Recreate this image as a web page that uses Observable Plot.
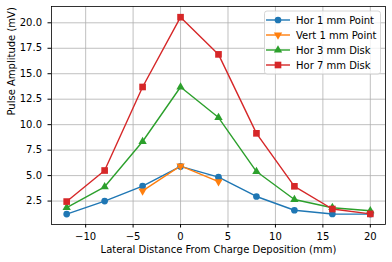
<!DOCTYPE html>
<html>
<head>
<meta charset="utf-8">
<script src="https://cdn.jsdelivr.net/npm/d3@7"></script>
<script src="https://cdn.jsdelivr.net/npm/@observablehq/plot@0.6"></script>
<style>
  html, body { margin: 0; padding: 0; background: #fff; }
  #chart { width: 392px; height: 262px; }
</style>
</head>
<body>
<div id="chart"></div>
<script>
// ---- data ----
const xPositions = [-12, -8, -4, 0, 4, 8, 12, 16, 20];
const hor1Point = [1.22, 2.5, 3.97, 5.9, 4.85, 2.95, 1.6, 1.23, 1.22];
const vertXPositions = [-4, 0, 4];
const vert1Point = [3.5, 5.95, 4.4];
const hor3Disk = [1.85, 3.9, 8.35, 13.7, 10.7, 5.4, 2.65, 1.85, 1.55];
const hor7Disk = [2.45, 5.5, 13.7, 20.55, 16.9, 9.15, 3.95, 1.72, 1.24];

const seriesNames = ["Hor 1 mm Point", "Vert 1 mm Point", "Hor 3 mm Disk", "Hor 7 mm Disk"];
const seriesColors = ["#1f77b4", "#ff7f0e", "#2ca02c", "#d62728"];
const seriesSymbols = ["circle", "triangle", "triangle", "square"];
const seriesRotate = [0, 180, 0, 0];

const xTicks = [-10, -5, 0, 5, 10, 15, 20];
const yTicks = [2.5, 5.0, 7.5, 10.0, 12.5, 15.0, 17.5, 20.0];
const xLabel = "Lateral Distance From Charge Deposition (mm)";
const yLabel = "Pulse Amplitude (mV)";

// ---- build table ----
const seriesXs = [xPositions, vertXPositions, xPositions, xPositions];
const seriesYs = [hor1Point, vert1Point, hor3Disk, hor7Disk];
const rows = [];
seriesNames.forEach((name, i) => {
  seriesXs[i].forEach((x, j) => rows.push({series: name, idx: i, x, y: seriesYs[i][j]}));
});

const symbolR = {circle: 3.35, triangle: 3.1, square: 3.75};

const marks = [
  Plot.gridX(xTicks, {stroke: "#b0b0b0", strokeOpacity: 1, strokeWidth: 0.8}),
  Plot.gridY(yTicks, {stroke: "#b0b0b0", strokeOpacity: 1, strokeWidth: 0.8}),
];
seriesNames.forEach((name, i) => {
  const data = rows.filter(d => d.idx === i);
  marks.push(Plot.line(data, {x: "x", y: "y", stroke: seriesColors[i], strokeWidth: 1.4}));
  marks.push(Plot.dot(data, {x: "x", y: "y", fill: seriesColors[i], stroke: "none",
    symbol: () => seriesSymbols[i], r: symbolR[seriesSymbols[i]], rotate: seriesRotate[i]}));
});
marks.push(
  Plot.frame({stroke: "black", strokeWidth: 0.8}),
  Plot.axisX({ticks: xTicks, tickSize: 3.5, tickPadding: 4.5, label: null,
    tickFormat: d => d < 0 ? "\u2212" + (-d) : String(d)}),
  Plot.axisY({ticks: yTicks, tickSize: 3.5, tickPadding: 6, label: null,
    tickFormat: d3.format(".1f")}),
  Plot.text([xLabel], {frameAnchor: "bottom", dy: 25.5, lineAnchor: "middle", text: d => d, fill: "black"}),
  Plot.text([yLabel], {frameAnchor: "left", dx: -40, rotate: -90, lineAnchor: "middle", text: d => d, fill: "black"})
);

const chart = Plot.plot({
  width: 392,
  height: 262,
  marginLeft: 51,
  marginRight: 7,
  marginTop: 6,
  marginBottom: 38,
  style: {fontFamily: "DejaVu Sans", fontSize: "10px", color: "black", background: "white"},
  x: {domain: [-13.6, 21.6]},
  y: {domain: [0.2, 21.6]},
  marks
});
document.getElementById("chart").appendChild(chart);

// ---- legend ----
const svg = d3.select(chart);
const lg = svg.append("g").attr("font-family", "DejaVu Sans").attr("font-size", "10px").attr("text-anchor", "start");
lg.append("rect").attr("x", 264.5).attr("y", 11).attr("width", 116).attr("height", 63)
  .attr("rx", 2.5).attr("fill", "white").attr("fill-opacity", 0.8).attr("stroke", "#cccccc").attr("stroke-width", 0.8);
const symMap = {circle: d3.symbolCircle, triangle: d3.symbolTriangle, square: d3.symbolSquare};
seriesNames.forEach((name, i) => {
  const cy = 20 + i * 15;
  lg.append("line").attr("x1", 266).attr("x2", 290).attr("y1", cy).attr("y2", cy)
    .attr("stroke", seriesColors[i]).attr("stroke-width", 1.4);
  const r = symbolR[seriesSymbols[i]];
  lg.append("path").attr("d", d3.symbol(symMap[seriesSymbols[i]], Math.PI * r * r)())
    .attr("transform", `translate(278,${cy}) rotate(${seriesRotate[i]})`)
    .attr("fill", seriesColors[i]);
  lg.append("text").attr("x", 296).attr("y", cy).attr("dy", "0.35em").attr("text-anchor", "start")
    .attr("fill", "black").text(name);
});
</script>
</body>
</html>
